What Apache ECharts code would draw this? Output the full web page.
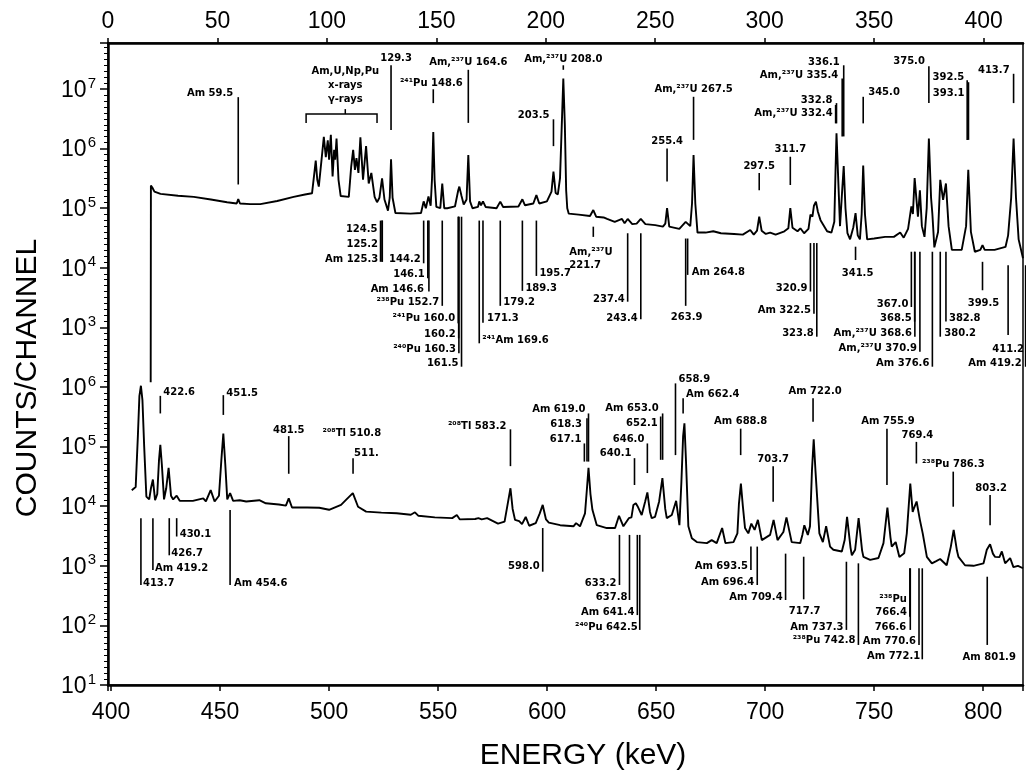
<!DOCTYPE html>
<html>
<head>
<meta charset="utf-8">
<script src="https://cdn.jsdelivr.net/npm/echarts@6/dist/echarts.min.js"></script>
<style>
html, body { margin: 0; padding: 0; background: #fff; }
#chart { width: 1026px; height: 776px; }
</style>
</head>
<body>
<div id="chart"></div>
<script>
// ---------------- Data ----------------
// Low-energy part of the spectrum (upper trace): [energy keV, counts/channel]
const TOP_SPECTRUM = [
  [19.5, 120], [19.6, 2.4e5], [20.3, 2.2e5], [21.2, 1.9e5], [24, 1.74e5], [32, 1.62e5], [39.2, 1.55e5],
  [47, 1.4e5], [54.4, 1.26e5], [58.8, 1.2e5], [59.5, 1.42e5], [60.3, 1.2e5], [65, 1.17e5], [69.6, 1.17e5],
  [77.3, 1.32e5], [84.8, 1.55e5], [90, 1.7e5], [93.2, 1.78e5], [94.3, 4e5], [94.9, 6.3e5], [95.6, 3e5],
  [96.3, 2.3e5], [97.8, 8e5], [98.6, 1.58e6], [99.5, 7.2e5], [100.4, 1.38e6], [101.0, 6.5e5], [101.8, 1.7e6],
  [102.6, 3.4e5], [103.3, 9.5e5], [103.8, 6.5e5], [104.4, 1.48e6], [105.3, 3.0e5], [106.3, 1.6e5],
  [107.0, 1.55e5], [110.0, 1.55e5], [111.1, 5.0e5], [112.0, 9.5e5], [112.8, 4.4e5], [113.5, 6.9e5],
  [114.4, 3.9e5], [115.3, 1.55e6], [116.5, 3.0e5], [117.9, 1.1e6], [119.1, 2.6e5], [120.3, 3.9e5],
  [121.8, 1.55e5], [122.9, 1.26e5], [124.0, 1.5e5], [125.2, 3.16e5], [126.3, 1.4e5], [127.9, 9.1e4],
  [128.7, 1.5e5], [129.3, 6.6e5], [130.0, 1.5e5], [131.3, 8.3e4], [138.2, 8.1e4], [143.0, 8.3e4],
  [144.2, 1.3e5], [145.2, 1.0e5], [146.4, 1.58e5], [147.4, 1.1e5], [148.0, 3e5], [148.6, 1.9e6],
  [149.2, 3e5], [150.0, 1.05e5], [151.8, 1.0e5], [152.7, 2.6e5], [153.6, 1.0e5], [155, 1.0e5],
  [158.5, 1.07e5], [160.0, 2.0e5], [160.5, 2.3e5], [161.5, 1.6e5], [162.5, 1.15e5], [163.8, 1.4e5],
  [164.6, 7.8e5], [165.4, 1.3e5], [166.5, 1.0e5], [169.0, 1.05e5], [169.6, 1.3e5], [170.4, 1.12e5],
  [171.3, 1.3e5], [172.5, 1.05e5], [177.5, 1.0e5], [179.2, 1.29e5], [180.5, 1.05e5], [187.5, 1.07e5],
  [189.3, 1.41e5], [190.5, 1.12e5], [194.3, 1.2e5], [195.7, 1.66e5], [197.0, 1.2e5], [200.5, 1.3e5],
  [202.6, 1.9e5], [203.5, 4.1e5], [204.5, 1.8e5], [205.5, 1.7e5], [206.5, 3.2e5], [207.3, 2.5e6],
  [208.0, 1.5e7], [208.7, 2.5e6], [209.3, 2e5], [209.8, 1.0e5], [210.5, 8.1e4], [215, 7.8e4],
  [220.2, 7.4e4], [221.7, 9.3e4], [223, 7.2e4], [226.4, 7.0e4], [228, 6.6e4], [231.5, 5.9e4],
  [234.8, 6.6e4], [236, 5.6e4], [237.4, 6.6e4], [239.5, 5.4e4], [241.5, 5.5e4], [243.4, 6.6e4],
  [245.5, 5.4e4], [250, 5.2e4], [253.5, 4.9e4], [254.6, 5.5e4], [255.4, 1.0e5], [256.4, 4.9e4],
  [261, 4.5e4], [263.9, 5.9e4], [264.8, 6.2e4], [266.0, 5.0e4], [266.8, 1.2e5], [267.5, 7.8e5],
  [268.3, 1.2e5], [269.3, 3.9e4], [273, 3.9e4], [276.5, 4.1e4], [280, 3.8e4], [286, 3.7e4], [290, 3.6e4],
  [293.4, 4.3e4], [295, 3.6e4], [296.5, 4.2e4], [297.5, 7.2e4], [298.6, 4.2e4], [300.5, 3.7e4],
  [302.5, 3.9e4], [305, 3.6e4], [309, 4.1e4], [310.8, 4.6e4], [311.7, 1.0e5], [312.7, 4.7e4],
  [315, 4.1e4], [316.3, 4.6e4], [318, 3.8e4], [320.0, 4.5e4], [320.9, 7.8e4], [321.8, 7.2e4],
  [322.5, 1.1e5], [323.4, 1.29e5], [324.3, 8.7e4], [325.5, 6.3e4], [328.5, 4.1e4], [330.5, 3.9e4],
  [331.8, 5.9e4], [332.4, 5e5], [332.8, 1.8e6], [333.6, 3e5], [334.4, 5e4], [335.4, 2e5], [336.1, 5.1e5],
  [336.9, 1e5], [337.8, 3.8e4], [339.0, 3.0e4], [340.5, 4.8e4], [341.5, 8.3e4], [342.5, 3.5e4],
  [343.5, 3.0e4], [344.3, 8e4], [345.0, 5.2e5], [345.8, 8e4], [346.8, 3.0e4], [350, 3.1e4], [355, 3.3e4],
  [359, 3.3e4], [361.9, 3.9e4], [363.5, 3.2e4], [365.5, 4.5e4], [367.0, 1.07e5], [367.7, 8e4],
  [368.5, 3.2e5], [369.4, 1.3e5], [370.0, 7.2e4], [370.9, 2.0e5], [371.8, 5e4], [373.0, 3.3e4],
  [374.0, 1.0e5], [375.0, 1.48e6], [376.0, 1.5e5], [376.6, 8e4], [377.5, 2.2e4], [379.2, 4e4],
  [380.2, 3.0e5], [381.5, 1.38e5], [382.8, 2.6e5], [384, 5e4], [385.5, 2.0e4], [390, 2.0e4], [392.0, 5e4],
  [393.0, 4.4e5], [394.2, 4e4], [396, 1.86e4], [398.5, 2.0e4], [399.5, 2.4e4], [400.5, 2.0e4], [405, 2.0e4],
  [410, 2.24e4], [411.2, 3.5e4], [412.6, 1.5e5], [413.7, 1.48e6], [414.8, 1.5e5], [416, 3e4], [418, 1.45e4]
];

// High-energy part of the spectrum (lower trace)
const BOTTOM_SPECTRUM = [
  [409.5, 1.86e4], [410.3, 2.0e4], [411.3, 2.1e4], [412.3, 1.5e5], [413.0, 7e5], [413.7, 1.05e6], [414.4, 6e5],
  [415.2, 1.0e5], [416.2, 1.45e4], [417.5, 1.3e4], [418.3, 2e4], [419.2, 2.8e4], [420.2, 1.26e4],
  [421.2, 1.6e4], [422.0, 6e4], [422.6, 1.07e5], [423.3, 5e4], [424.3, 1.3e4], [425.3, 2e4], [426.4, 4.4e4],
  [427.5, 1.5e4], [428.5, 1.3e4], [430.1, 1.5e4], [431.5, 1.23e4], [437.5, 1.23e4], [442.3, 1.35e4],
  [443.5, 1.2e4], [445.7, 1.86e4], [447.5, 1.2e4], [449.5, 1.5e4], [450.6, 6e4], [451.5, 1.66e5],
  [452.4, 5e4], [453.3, 1.3e4], [454.6, 1.66e4], [456, 1.23e4], [459, 1.26e4], [462, 1.2e4], [468, 1.26e4],
  [471, 1.12e4], [477, 1.07e4], [480.2, 1.02e4], [481.5, 1.35e4], [483, 9.5e3], [490, 9.5e3],
  [495.5, 9.4e3], [500, 8.7e3], [505.5, 1.05e4], [508, 1.3e4], [510.9, 1.66e4], [513.3, 9.8e3],
  [517, 8.1e3], [524, 7.8e3], [531, 7.6e3], [537.5, 7.2e3], [539.4, 7.9e3], [541, 6.9e3], [548.5, 6.5e3],
  [556.5, 6.3e3], [558.6, 7.1e3], [560, 6.0e3], [567, 6.1e3], [568.5, 6.3e3], [570, 6.0e3], [572.5, 6.3e3],
  [577.5, 5.1e3], [580.5, 5.5e3], [582.3, 1.3e4], [583.2, 2.0e4], [584.2, 9e3], [585.3, 5.9e3],
  [587.2, 5.6e3], [588.5, 5.0e3], [590.2, 6.6e3], [591.8, 4.7e3], [594.8, 5.2e3], [596.6, 7.5e3],
  [598.0, 1.05e4], [599.5, 6e3], [600.8, 5.3e3], [606, 4.8e3], [612.1, 4.6e3], [613.3, 5.2e3],
  [615.1, 4.6e3], [617.4, 7.6e3], [618.3, 2.0e4], [619.0, 4.4e4], [619.9, 1.6e4], [620.8, 8.7e3],
  [622.8, 4.8e3], [627.4, 4.3e3], [631.2, 4.3e3], [633.0, 6.9e3], [635.0, 4.6e3], [637.5, 6.3e3],
  [638.7, 6.5e3], [639.6, 1.05e4], [640.7, 1.12e4], [641.5, 1.0e4], [642.3, 1.05e4], [643.4, 7.1e3],
  [645.0, 1.2e4], [646.0, 1.7e4], [647.2, 8e3], [648, 6.3e3], [649.5, 6.6e3], [651.4, 1.2e4],
  [652.9, 2.95e4], [654.2, 9e3], [654.9, 6.3e3], [657.2, 7.1e3], [659.2, 1.23e4], [660.7, 4.8e3],
  [661.6, 2.5e4], [662.4, 1.5e5], [663.0, 2.45e5], [663.7, 6e4], [664.8, 4.6e3], [666.4, 2.9e3],
  [668.7, 2.5e3], [673.3, 2.4e3], [675.5, 2.7e3], [677.8, 2.4e3], [680.3, 4.3e3], [681.8, 2.4e3],
  [685.5, 2.5e3], [687.3, 3.5e3], [688.0, 1.1e4], [688.9, 2.4e4], [689.8, 1e4], [690.8, 4.3e3],
  [692.3, 3.5e3], [693.7, 5.1e3], [695.2, 4.0e3], [696.7, 5.9e3], [698.5, 2.7e3], [702.3, 3.3e3],
  [703.9, 5.9e3], [705.7, 2.7e3], [708.4, 3.7e3], [709.8, 6.5e3], [712.2, 2.5e3], [716.1, 2.4e3],
  [717.1, 3.3e3], [718.0, 4.8e3], [719.6, 3.3e3], [720.6, 4.6e3], [721.5, 4e4], [722.3, 1.32e5],
  [723.1, 4e4], [724.9, 3.5e3], [726.5, 2.5e3], [728.0, 4.6e3], [729.8, 2.1e3], [731.3, 1.86e3],
  [735.2, 1.74e3], [736.5, 2.7e3], [737.6, 6.6e3], [739.2, 2e3], [739.8, 1.5e3], [741.3, 1.86e3],
  [742.9, 6.3e3], [744.5, 1.8e3], [745.1, 1.41e3], [748.2, 1.26e3], [752.0, 1.35e3], [754.3, 2.4e3],
  [756.1, 9.5e3], [757.5, 3e3], [758.1, 2.1e3], [759.9, 2.5e3], [761.6, 1.41e3], [763.8, 1.62e3],
  [765.0, 3.5e3], [766.6, 2.4e4], [767.7, 8e3], [768.4, 9.5e3], [769.5, 1.2e4], [771.0, 5.9e3],
  [772.3, 3.5e3], [774.2, 1.41e3], [776.5, 1.1e3], [778.5, 1.2e3], [780.3, 1.3e3], [783.3, 1.02e3],
  [785.2, 2.1e3], [786.5, 4.0e3], [788.0, 1.8e3], [788.7, 1.41e3], [791.7, 1.02e3], [795.6, 1.0e3],
  [800.2, 1.1e3], [801.7, 1.86e3], [803.2, 2.3e3], [804.5, 1.6e3], [805.5, 1.41e3], [807.5, 1.4e3],
  [808.6, 1.74e3], [810.1, 1.1e3], [812.4, 1.35e3], [813.9, 950], [816, 1.0e3], [818.3, 910]
];

// Peak identifications: [label, energy keV, marker end A (counts), marker end B (counts)]
const TOP_MARKS = [
  ['Am 59.5', 59.5, 7.3e6, 2.5e5],
  ['129.3', 129.3, 2.5e7, 2.05e6],
  ['Am,²³⁷U 164.6', 164.6, 2.1e7, 2.7e6],
  ['²⁴¹Pu 148.6', 148.6, 9.9e6, 5.8e6],
  ['Am,²³⁷U 208.0', 208.0, 2.5e7, 2.1e7],
  ['203.5', 203.5, 3.1e6, 1.1e6],
  ['Am,²³⁷U 267.5', 267.5, 7.4e6, 1.4e6],
  ['255.4', 255.4, 1.0e6, 2.8e5],
  ['297.5', 297.5, 3.9e5, 2.0e5],
  ['311.7', 311.7, 7.3e5, 2.45e5],
  ['332.8', 332.8, 5.8e6, 2.65e6],
  ['Am,²³⁷U 332.4', 332.4, 5.4e6, 2.65e6],
  ['336.1', 336.1, 2.5e7, 1.6e6],
  ['Am,²³⁷U 335.4', 335.4, 1.5e7, 1.6e6],
  ['345.0', 345.0, 7.4e6, 2.65e6],
  ['375.0', 375.0, 2.4e7, 5.8e6],
  ['392.5', 392.5, 1.4e7, 1.4e6],
  ['393.1', 393.1, 1.3e7, 1.4e6],
  ['413.7', 413.7, 1.8e7, 5.8e6],
  ['124.5', 124.5, 6.2e4, 1.26e4],
  ['125.2', 125.2, 6.2e4, 1.26e4],
  ['Am 125.3', 125.3, 6.2e4, 1.26e4],
  ['144.2', 144.2, 6.2e4, 1.19e4],
  ['146.1', 146.1, 6.2e4, 6.7e3],
  ['Am 146.6', 146.6, 6.2e4, 4.0e3],
  ['²³⁸Pu 152.7', 152.7, 6.2e4, 2.3e3],
  ['²⁴¹Pu 160.0', 160.0, 7.2e4, 1.17e3],
  ['160.2', 160.2, 7.2e4, 656],
  ['²⁴⁰Pu 160.3', 160.3, 7.2e4, 368],
  ['161.5', 161.5, 7.2e4, 219],
  ['²⁴¹Am 169.6', 169.6, 6.2e4, 541],
  ['171.3', 171.3, 6.2e4, 1.2e3],
  ['179.2', 179.2, 6.2e4, 2.3e3],
  ['189.3', 189.3, 6.2e4, 4.1e3],
  ['195.7', 195.7, 6.2e4, 7.3e3],
  ['Am,²³⁷U\n221.7', 221.7, 4.9e4, 3.3e4],
  ['237.4', 237.4, 3.8e4, 2.7e3],
  ['243.4', 243.4, 3.8e4, 1.37e3],
  ['Am 264.8', 264.8, 3.1e4, 7.6e3],
  ['263.9', 263.9, 3.1e4, 2.3e3],
  ['320.9', 320.9, 2.6e4, 4.0e3],
  ['Am 322.5', 322.5, 2.6e4, 1.7e3],
  ['323.8', 323.8, 2.6e4, 698],
  ['341.5', 341.5, 2.26e4, 1.35e4],
  ['367.0', 367.0, 1.86e4, 2.2e3],
  ['368.5', 368.5, 1.86e4, 1.25e3],
  ['Am,²³⁷U 368.6', 368.6, 1.86e4, 698],
  ['Am,²³⁷U 370.9', 370.9, 1.86e4, 391],
  ['Am 376.6', 376.6, 1.86e4, 219],
  ['380.2', 380.2, 1.86e4, 698],
  ['382.8', 382.8, 1.86e4, 1.25e3],
  ['399.5', 399.5, 1.26e4, 4.2e3],
  ['411.2', 411.2, 1.1e4, 745],
  ['Am 419.2', 419.2, 1.1e4, 219]
];

const BOTTOM_MARKS = [
  ['422.6', 422.6, 7.1e5, 3.6e5],
  ['451.5', 451.5, 7.3e5, 3.4e5],
  ['481.5', 481.5, 1.5e5, 3.5e4],
  ['²⁰⁸Tl 510.8', 510.8, 6.4e4, 6.4e4],
  ['511.', 511.0, 6.4e4, 3.5e4],
  ['²⁰⁸Tl 583.2', 583.2, 1.95e5, 4.7e4],
  ['Am 619.0', 619.0, 3.6e5, 5.6e4],
  ['618.3', 618.3, 3.0e5, 5.6e4],
  ['617.1', 617.1, 1.13e5, 5.6e4],
  ['646.0', 646.0, 1.13e5, 3.6e4],
  ['640.1', 640.1, 6.4e4, 2.27e4],
  ['Am 653.0', 653.0, 3.6e5, 6.0e4],
  ['652.1', 652.1, 3.2e5, 6.0e4],
  ['658.9', 658.9, 1.15e6, 7.2e4],
  ['Am 662.4', 662.4, 6.5e5, 3.6e5],
  ['Am 688.8', 688.8, 2.0e5, 7.2e4],
  ['703.7', 703.7, 4.7e4, 1.19e4],
  ['Am 722.0', 722.0, 6.5e5, 2.6e5],
  ['Am 755.9', 755.9, 2.0e5, 2.27e4],
  ['769.4', 769.4, 1.2e5, 5.2e4],
  ['²³⁸Pu 786.3', 786.3, 3.8e4, 9.8e3],
  ['803.2', 803.2, 1.54e4, 4.8e3],
  ['413.7', 413.7, 6.3e3, 476],
  ['Am 419.2', 419.2, 6.3e3, 851],
  ['426.7', 426.7, 6.3e3, 1.5e3],
  ['430.1', 430.1, 6.3e3, 3.1e3],
  ['Am 454.6', 454.6, 8.6e3, 476],
  ['598.0', 598.0, 4.3e3, 796],
  ['633.2', 633.2, 3.3e3, 476],
  ['637.8', 637.8, 3.3e3, 267],
  ['Am 641.4', 641.4, 3.3e3, 149],
  ['²⁴⁰Pu 642.5', 642.5, 3.3e3, 84],
  ['Am 693.5', 693.5, 2.1e3, 851],
  ['Am 696.4', 696.4, 2.1e3, 476],
  ['Am 709.4', 709.4, 1.6e3, 267],
  ['717.7', 717.7, 1.42e3, 274],
  ['Am 737.3', 737.3, 1.17e3, 84],
  ['²³⁸Pu 742.8', 742.8, 1.1e3, 47],
  ['²³⁸Pu\n766.4', 766.4, 908, 140],
  ['766.6', 766.6, 908, 84],
  ['Am 770.6', 770.6, 908, 47],
  ['Am 772.1', 772.1, 908, 27],
  ['Am 801.9', 801.9, 656, 47]
];

// X-ray / gamma-ray group bracket: energies [left, tick, right], counts [feet, bar, tick top]
const BRACKET_ENERGIES = [90.5, 108.4, 122.9];
const BRACKET_COUNTS = [2.7e6, 3.8e6, 4.6e6];
const BRACKET_TEXT = ['Am,U,Np,Pu', 'x-rays', 'γ-rays'];

// Axis ranges and tick labels
const TOP_ENERGY_RANGE = [0, 418];
const BOTTOM_ENERGY_RANGE = [398.6, 818.3];
const ENERGY_STEP = 50;
const TOP_DECADES = [3, 4, 5, 6, 7];
const BOTTOM_DECADES = [1, 2, 3, 4, 5, 6];

// ---------------- Layout ----------------
const PLOT = { left: 108, right: 1023, top: 43, bottom: 685 };
const DECADE_PX = 59.6;
// the upper trace is offset by four decades from the lower one
const TOP_OFFSET_DECADES = 4;
const FULL_DECADES = (PLOT.bottom - PLOT.top) / DECADE_PX;
const TOP_MAX_EXP = 1 + FULL_DECADES - TOP_OFFSET_DECADES;
const TOP_MIN_EXP = -1;
const BOTTOM_MIN_EXP = 1;
const BOTTOM_MAX_EXP = 10;

// label placement for each mark: [align, line end ('t' upper / 'b' lower), dx px, dy px]
const TOP_MARK_LAYOUT = [
  ['right', 't', -5, -4], ['center', 't', 5, -7], ['center', 't', 0, -7], ['center', 't', -2, -6],
  ['center', 't', 0, -6], ['right', 't', -4, -4], ['center', 't', 0, -7], ['center', 't', 0, -7],
  ['center', 't', 0, -7], ['center', 't', 0, -7], ['right', 't', -4, -3], ['right', 't', -3, 8],
  ['right', 't', -4, -3], ['right', 't', -4, -3], ['left', 't', 5, -4], ['right', 't', -4, -5],
  ['right', 't', -3, -3], ['right', 't', -4, 11], ['right', 't', -4, -3],
  ['right', 't', -3, 9], ['right', 't', -4, 24], ['right', 't', -4, 39],
  ['right', 'b', -3, -4], ['right', 'b', -3, -4], ['right', 'b', -5, -2], ['right', 'b', -3, -3],
  ['right', 'b', -3, -5], ['right', 'b', -3, -4], ['right', 'b', -3, -4], ['right', 'b', -3, -3],
  ['left', 'b', 3, -3], ['left', 'b', 4, -4], ['left', 'b', 3, -3], ['left', 'b', 3, -2], ['left', 'b', 3, -3],
  ['left', 'b', -24, 22], ['right', 'b', -3, -2], ['right', 'b', -3, -1], ['left', 'b', 4, -2],
  ['center', 'b', 1, 12], ['right', 'b', -3, -3], ['right', 'b', -3, -3], ['right', 'b', -3, -3],
  ['center', 'b', 2, 13], ['right', 'b', -3, -3], ['right', 'b', -3, -3], ['right', 'b', -3, -3],
  ['right', 'b', -3, -3], ['right', 'b', -3, -3], ['left', 'b', 4, -3], ['left', 'b', 3, -3],
  ['center', 'b', 1, 13], ['center', 'b', 0, 14], ['right', 'b', -4, -3]
];

const BOTTOM_MARK_LAYOUT = [
  ['left', 't', 3, -3], ['left', 't', 3, -2], ['center', 't', 0, -6], ['left', 't', -30, -25],
  ['left', 't', 1, -5], ['right', 't', -4, -3], ['right', 't', -3, -4], ['right', 't', -5, 6],
  ['right', 't', -3, -4], ['right', 't', -3, -4], ['right', 't', -3, -5], ['right', 't', -4, -5],
  ['right', 't', -3, 7], ['left', 't', 3, -4], ['left', 't', 3, -4], ['center', 't', 0, -7],
  ['center', 't', 0, -7], ['center', 't', 2, -7], ['center', 't', 1, -7], ['center', 't', 1, -6],
  ['center', 't', 0, -7], ['center', 't', 1, -7],
  ['left', 'b', 2, -2], ['left', 'b', 2, -2], ['left', 'b', 2, -2], ['left', 'b', 3, -2], ['left', 'b', 4, -2],
  ['right', 'b', -3, -5], ['right', 'b', -3, -2], ['right', 'b', -2, -3], ['right', 'b', -3, -3],
  ['right', 'b', -2, -3], ['right', 'b', -3, -4], ['right', 'b', -3, -3], ['right', 'b', -3, -3],
  ['center', 'b', 1, 12], ['right', 'b', -3, -3], ['right', 'b', -3, -5], ['right', 'b', -3, -11],
  ['right', 'b', -4, -3], ['right', 'b', -3, -4], ['right', 'b', -2, -3], ['center', 'b', 2, 12]
];

const MARK_FONT = { fontSize: 10, fontWeight: 'bold', fontFamily: 'DejaVu Sans' };
const AXIS_FONT = 'Liberation Sans';

// ---------------- Chart ----------------
const chart = echarts.init(document.getElementById('chart'), null, { renderer: 'canvas' });

function energyLabel(v) {
  const r = Math.round(v / ENERGY_STEP) * ENERGY_STEP;
  return Math.abs(v - r) < 1e-6 ? String(r) : '';
}

function decadeLabel(shown) {
  return function (v) {
    const lg = Math.log10(v);
    const e = Math.round(lg);
    if (Math.abs(lg - e) > 1e-6 || shown.indexOf(e) < 0) return '';
    return '{b|10}{e|' + e + '}';
  };
}

const decadeRich = {
  b: { fontSize: 23, fontFamily: AXIS_FONT, color: '#000', verticalAlign: 'bottom' },
  e: { fontSize: 15, fontFamily: AXIS_FONT, color: '#000', verticalAlign: 'bottom', padding: [0, 0, 11, 1] }
};

// log axes carry the decade labels; the tick marks come from the frame axis
function logAxis(gridIndex, minExp, maxExp, shown) {
  return {
    gridIndex, type: 'log', logBase: 10,
    min: Math.pow(10, minExp), max: Math.pow(10, maxExp),
    splitNumber: 10,
    axisLine: { show: false },
    axisTick: { show: false },
    axisLabel: { margin: 12, formatter: decadeLabel(shown), rich: decadeRich },
    splitLine: { show: false }
  };
}

function markSeries(marks, layout, xAxisIndex, yAxisIndex) {
  return {
    type: 'custom', xAxisIndex, yAxisIndex, clip: false, silent: true, z: 4,
    data: marks.map((m, i) => [m[1], m[2], m[3], i]),
    renderItem(params, api) {
      const i = api.value(3);
      const e = api.value(0);
      const pa = api.coord([e, api.value(1)]);
      const pb = api.coord([e, api.value(2)]);
      const upper = pa[1] <= pb[1] ? pa : pb;
      const lower = pa[1] <= pb[1] ? pb : pa;
      const [align, end, dx, dy] = layout[i];
      const ref = end === 't' ? upper : lower;
      const children = [];
      if (lower[1] - upper[1] > 0.5) {
        children.push({
          type: 'line',
          shape: { x1: pa[0], y1: pa[1], x2: pb[0], y2: pb[1] },
          style: { stroke: '#000', lineWidth: 1.6 }
        });
      }
      children.push({
        type: 'text', x: ref[0] + dx, y: ref[1] + dy,
        style: Object.assign({
          text: marks[i][0], fill: '#000',
          align, textAlign: align, verticalAlign: 'middle', textVerticalAlign: 'middle',
          lineHeight: 13
        }, MARK_FONT)
      });
      return { type: 'group', children };
    }
  };
}

const bracketSeries = {
  type: 'custom', xAxisIndex: 0, yAxisIndex: 0, clip: false, silent: true, z: 4,
  data: [[BRACKET_ENERGIES[1], BRACKET_COUNTS[2]]],
  renderItem(params, api) {
    const l = api.coord([BRACKET_ENERGIES[0], BRACKET_COUNTS[0]]);
    const lt = api.coord([BRACKET_ENERGIES[0], BRACKET_COUNTS[1]]);
    const rt = api.coord([BRACKET_ENERGIES[2], BRACKET_COUNTS[1]]);
    const r = api.coord([BRACKET_ENERGIES[2], BRACKET_COUNTS[0]]);
    const cb = api.coord([BRACKET_ENERGIES[1], BRACKET_COUNTS[1]]);
    const ct = api.coord([BRACKET_ENERGIES[1], BRACKET_COUNTS[2]]);
    return {
      type: 'group',
      children: [
        { type: 'polyline', shape: { points: [l, lt, rt, r] }, style: { stroke: '#000', lineWidth: 1.5, fill: null } },
        { type: 'line', shape: { x1: cb[0], y1: cb[1], x2: ct[0], y2: ct[1] }, style: { stroke: '#000', lineWidth: 1.5 } },
        {
          type: 'text', x: ct[0], y: ct[1] - 24,
          style: Object.assign({
            text: BRACKET_TEXT.join('\n'), fill: '#000', align: 'center', textAlign: 'center',
            verticalAlign: 'middle', textVerticalAlign: 'middle', lineHeight: 14
          }, MARK_FONT)
        }
      ]
    };
  }
};

const topGridHeight = (TOP_MAX_EXP - TOP_MIN_EXP) * DECADE_PX;
const bottomGridHeight = (BOTTOM_MAX_EXP - BOTTOM_MIN_EXP) * DECADE_PX;

const option = {
  backgroundColor: '#fff',
  animation: false,
  grid: [
    { left: PLOT.left, width: PLOT.right - PLOT.left, top: PLOT.top, height: topGridHeight },
    { left: PLOT.left, width: PLOT.right - PLOT.left, top: PLOT.bottom - bottomGridHeight, height: bottomGridHeight },
    { left: PLOT.left, width: PLOT.right - PLOT.left, top: PLOT.top, height: PLOT.bottom - PLOT.top,
      show: true, borderColor: '#000', borderWidth: 1.5, backgroundColor: 'transparent' }
  ],
  xAxis: [
    {
      gridIndex: 0, type: 'value', position: 'top',
      min: TOP_ENERGY_RANGE[0], max: TOP_ENERGY_RANGE[1], interval: ENERGY_STEP,
      axisLine: { lineStyle: { color: '#000', width: 2.5 } },
      axisTick: { length: 5, lineStyle: { color: '#000', width: 1.5 } },
      axisLabel: { fontSize: 23, fontFamily: AXIS_FONT, color: '#000', margin: 10, formatter: energyLabel, showMaxLabel: false },
      splitLine: { show: false }
    },
    {
      gridIndex: 1, type: 'value', position: 'bottom',
      min: BOTTOM_ENERGY_RANGE[0], max: BOTTOM_ENERGY_RANGE[1],
      minInterval: ENERGY_STEP, maxInterval: ENERGY_STEP, splitNumber: 8,
      axisLine: { lineStyle: { color: '#000', width: 2.5 } },
      axisTick: { length: 6, lineStyle: { color: '#000', width: 1.5 } },
      axisLabel: { fontSize: 23, fontFamily: AXIS_FONT, color: '#000', margin: 16, formatter: energyLabel },
      splitLine: { show: false }
    },
    { gridIndex: 2, type: 'value', show: false, min: 0, max: 1 }
  ],
  yAxis: [
    logAxis(0, TOP_MIN_EXP, TOP_MAX_EXP, TOP_DECADES),
    logAxis(1, BOTTOM_MIN_EXP, BOTTOM_MAX_EXP, BOTTOM_DECADES),
    {
      // frame axis in decades: draws the left axis line with decade and sub-decade ticks
      gridIndex: 2, type: 'value', min: BOTTOM_MIN_EXP, max: BOTTOM_MIN_EXP + FULL_DECADES, interval: 1,
      axisLine: { show: true, lineStyle: { color: '#000', width: 2.5 } },
      axisTick: { show: true, length: 8, lineStyle: { color: '#000', width: 1.5 } },
      minorTick: { show: true, splitNumber: 10, length: 4, lineStyle: { color: '#000', width: 1 } },
      axisLabel: { show: false }, splitLine: { show: false }, minorSplitLine: { show: false }
    }
  ],
  graphic: [
    {
      type: 'text', x: 28, y: 378, rotation: Math.PI / 2,
      style: { text: 'COUNTS/CHANNEL', fill: '#000', font: '30px "Liberation Sans"',
               align: 'center', verticalAlign: 'middle', textAlign: 'center', textVerticalAlign: 'middle' }
    },
    {
      type: 'text', x: 583, y: 756,
      style: { text: 'ENERGY (keV)', fill: '#000', font: '30px "Liberation Sans"',
               align: 'center', verticalAlign: 'middle', textAlign: 'center', textVerticalAlign: 'middle' }
    }
  ],
  series: [
    {
      type: 'line', xAxisIndex: 0, yAxisIndex: 0, data: TOP_SPECTRUM,
      showSymbol: false, symbol: 'none', smooth: false,
      lineStyle: { color: '#000', width: 1.9 }, z: 3
    },
    {
      type: 'line', xAxisIndex: 1, yAxisIndex: 1, data: BOTTOM_SPECTRUM,
      showSymbol: false, symbol: 'none', smooth: false,
      lineStyle: { color: '#000', width: 1.9 }, z: 3
    },
    markSeries(TOP_MARKS, TOP_MARK_LAYOUT, 0, 0),
    markSeries(BOTTOM_MARKS, BOTTOM_MARK_LAYOUT, 1, 1),
    bracketSeries
  ]
};

chart.setOption(option);
</script>
</body>
</html>
